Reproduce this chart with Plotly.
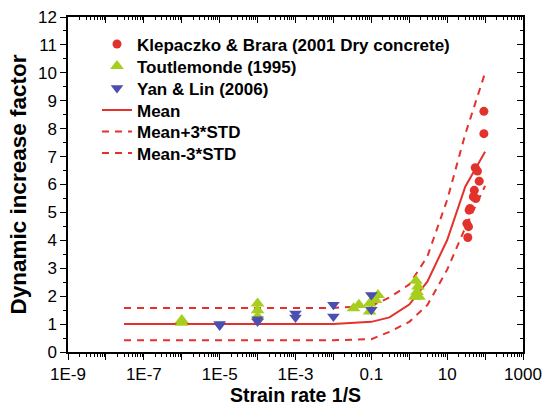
import plotly.graph_objects as go

# ---- data ----
kb_rate = [55, 63, 70, 52, 49, 57, 40, 38, 33, 36.5, 35, 93, 93]
kb_dif = [6.6, 6.48, 6.12, 5.79, 5.56, 5.5, 5.14, 5.08, 4.6, 4.49, 4.1, 8.62, 7.82]

tou_rate = [1e-6, 1e-6, 1e-4, 1e-4, 1e-4, 0.034, 0.047, 0.09, 0.09, 0.13, 0.15, 1.4, 1.5, 1.6, 1.7, 1.8]
tou_dif = [1.05, 1.15, 1.74, 1.5, 1.27, 1.57, 1.69, 1.45, 1.74, 1.86, 2.04, 1.98, 2.55, 2.15, 2.35, 1.98]

yl_rate = [1e-5, 1e-5, 1e-4, 1e-4, 1e-3, 1e-3, 1e-2, 1e-2, 0.1, 0.1]
yl_dif = [0.95, 1.0, 1.17, 1.09, 1.38, 1.24, 1.69, 1.27, 2.04, 1.51]

curve_rate = [3e-8, 1e-7, 1e-6, 1e-5, 1e-4, 1e-3, 1e-2, 0.1, 0.3, 1, 3, 10, 30, 100]
mean_dif = [1, 1, 1, 1, 1, 1, 1.0, 1.08, 1.24, 1.70, 2.52, 4.01, 5.92, 7.17]
upper_dif = [1.58, 1.58, 1.58, 1.58, 1.58, 1.58, 1.58, 1.65, 1.95, 2.42, 3.42, 5.45, 7.8, 10.0]
lower_dif = [0.42, 0.42, 0.42, 0.42, 0.42, 0.42, 0.42, 0.46, 0.72, 1.08, 1.68, 2.95, 4.45, 5.95]

x_tickvals = [1e-9, 1e-8, 1e-7, 1e-6, 1e-5, 1e-4, 1e-3, 1e-2, 1e-1, 1, 10, 100, 1000]
x_ticktext = ["1E-9", "", "1E-7", "", "1E-5", "", "1E-3", "", "0.1", "", "10", "", "1000"]
x_minor = [m * 10.0 ** e for e in range(-9, 3) for m in range(2, 10)]

RED = "#E3322B"
GREEN = "#A7CE1E"
BLUE = "#4B4FAF"
FONT = "Liberation Sans, Arial, sans-serif"

W, H = 542, 415
PL, PR, PT, PB = 68, 523, 17, 352
legend_rows_px = [44.5, 66.5, 88.5, 110.5, 132, 153.5]
legend_left_px = 97


def paper_y(py):
    return 1 - (py - PT) / (PB - PT)


fig = go.Figure()

fig.add_trace(go.Scatter(x=curve_rate, y=mean_dif, mode="lines", name="Mean",
                         line=dict(color=RED, width=2), legend="legend4"))
fig.add_trace(go.Scatter(x=curve_rate, y=upper_dif, mode="lines", name="Mean+3*STD",
                         line=dict(color=RED, width=2, dash="7px,6px"), legend="legend5"))
fig.add_trace(go.Scatter(x=curve_rate, y=lower_dif, mode="lines", name="Mean-3*STD",
                         line=dict(color=RED, width=2, dash="7px,6px"), legend="legend6"))

fig.add_trace(go.Scatter(x=kb_rate, y=kb_dif, mode="markers", name="Klepaczko & Brara (2001 Dry concrete)",
                         marker=dict(symbol="circle", color=RED, size=9), legend="legend"))
fig.add_trace(go.Scatter(x=tou_rate, y=tou_dif, mode="markers", name="Toutlemonde (1995)",
                         marker=dict(symbol="triangle-up", color=GREEN, size=12), legend="legend2"))
fig.add_trace(go.Scatter(x=yl_rate, y=yl_dif, mode="markers", name="Yan & Lin (2006)",
                         marker=dict(symbol="triangle-down", color=BLUE, size=11), legend="legend3"))

# dummy trace for mirrored (inside) axes
fig.add_trace(go.Scatter(x=[None], y=[None], xaxis="x2", yaxis="y2", showlegend=False,
                         hoverinfo="skip", mode="markers"))

legend_common = dict(xanchor="left", yanchor="middle", bgcolor="rgba(0,0,0,0)",
                     font=dict(family=FONT, size=17, color="black", weight="bold"),
                     itemwidth=30, borderwidth=0)
legends = {}
for i, py in enumerate(legend_rows_px):
    key = "legend" if i == 0 else f"legend{i + 1}"
    legends[key] = dict(x=(legend_left_px - PL) / (PR - PL), y=paper_y(py), **legend_common)

fig.update_layout(
    width=W, height=H,
    margin=dict(l=PL, r=W - PR, t=PT, b=H - PB, autoexpand=False),
    paper_bgcolor="white", plot_bgcolor="white",
    font=dict(family=FONT, size=17, color="black"),
    showlegend=True,
    **legends,
    xaxis=dict(type="log", range=[-9, 3], tickmode="array", tickvals=x_tickvals, ticktext=x_ticktext,
               automargin=False, ticklabeloverflow="allow",
               ticks="outside", ticklen=6, tickwidth=1, tickcolor="black",
               minor=dict(tickmode="array", tickvals=x_minor, ticks="outside", ticklen=3, tickcolor="black"),
               showline=True, linecolor="black", linewidth=1.5, showgrid=False, zeroline=False,
               tickfont=dict(size=17),
               title=dict(text="Strain rate 1/S", font=dict(size=19.5, weight="bold"), standoff=0)),
    yaxis=dict(range=[0, 12], dtick=1, ticks="outside", ticklen=6, tickwidth=1, tickcolor="black",
               automargin=False, ticklabeloverflow="allow",
               minor=dict(dtick=0.5, ticks="outside", ticklen=3, tickcolor="black"),
               showline=True, linecolor="black", linewidth=1.5, showgrid=False, zeroline=False,
               tickfont=dict(size=17),
               title=dict(text="Dynamic increase factor", font=dict(size=22.5, weight="bold"), standoff=5)),
    xaxis2=dict(type="log", range=[-9, 3], overlaying="x", side="top", anchor="y",
                automargin=False,
                tickmode="array", tickvals=x_tickvals, ticktext=[""] * len(x_tickvals),
                ticks="inside", ticklen=6, tickcolor="black",
                minor=dict(tickmode="array", tickvals=x_minor, ticks="inside", ticklen=3, tickcolor="black"),
                showline=True, linecolor="black", linewidth=1.5, showgrid=False, zeroline=False,
                showticklabels=False),
    yaxis2=dict(range=[0, 12], overlaying="y", side="right", anchor="x", dtick=1,
                automargin=False,
                ticks="inside", ticklen=6, tickcolor="black",
                minor=dict(dtick=0.5, ticks="inside", ticklen=3, tickcolor="black"),
                showline=True, linecolor="black", linewidth=1.5, showgrid=False, zeroline=False,
                showticklabels=False),
)

fig.write_html("out.html",
               config={"displayModeBar": False},
               post_script="document.body.style.margin='0';document.body.style.overflow='hidden';")
